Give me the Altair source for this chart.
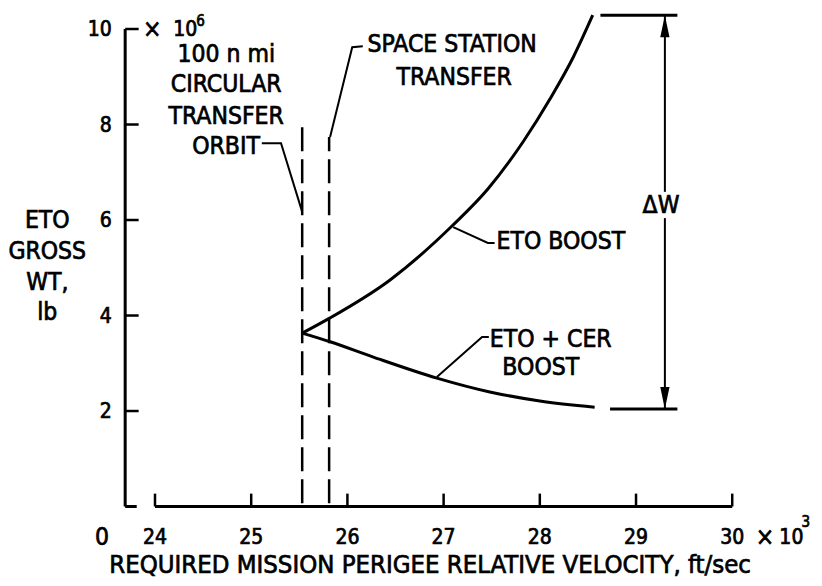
import altair as alt
import pandas as pd

# ---- data ----
velocity_eto = [25.53, 25.82, 26.44, 27.09, 27.46, 27.83, 28.11, 28.35, 28.55]
weight_eto = [3.63, 3.95, 4.74, 5.88, 6.65, 7.65, 8.55, 9.42, 10.29]
velocity_cer = [25.53, 25.82, 26.27, 26.93, 27.48, 28.00, 28.57]
weight_cer = [3.63, 3.45, 3.13, 2.69, 2.40, 2.21, 2.08]
transfer_velocity = [25.53, 25.81]
transfer_top = [8.05, 7.74]
transfer_bottom = [0.07, 0.07]
y_ticks = [2, 4, 6, 8, 10]
x_ticks = [24, 25, 26, 27, 28, 29, 30]
delta_w_x = 29.30
delta_w_top = 10.29
delta_w_bottom = 2.04
delta_w_bar_top = [28.63, 29.43]
delta_w_bar_bottom = [28.73, 29.43]

FONT = "Liberation Sans Narrow, DejaVu Sans Condensed, Liberation Sans, sans-serif"
THICK = 0.7
xs = alt.Scale(domain=[22.472, 30.850], nice=False, zero=False)
ys = alt.Scale(domain=[-1.497, 10.44], nice=False, zero=False)


def X(f):
    return alt.X(f, type="quantitative", scale=xs, axis=None)


def Y(f):
    return alt.Y(f, type="quantitative", scale=ys, axis=None)


# curves
curves = pd.DataFrame({"v": velocity_eto, "w": weight_eto, "s": "ETO BOOST"})
curves = pd.concat(
    [curves, pd.DataFrame({"v": velocity_cer, "w": weight_cer, "s": "ETO + CER BOOST"})]
)
curve_layer = alt.Chart(curves).mark_line(
    color="black", strokeWidth=3, interpolate="monotone"
).encode(x=X("v"), y=Y("w"), detail="s:N")

# dashed transfer lines
tr = pd.DataFrame({"v": transfer_velocity, "top": transfer_top, "bot": transfer_bottom})
dash_layer = alt.Chart(tr).mark_rule(
    color="black", strokeWidth=2.5, strokeDash=[24, 8]
).encode(x=X("v"), y=Y("bot"), y2="top:Q")

# axes
yaxis = alt.Chart(pd.DataFrame({"x": [23.69], "y0": [0.0], "y1": [10.0]})).mark_rule(
    color="black", strokeWidth=3
).encode(x=X("x"), y=Y("y0"), y2="y1:Q")
ytick_df = pd.DataFrame({"x": [23.69] * len(y_ticks), "x2": [23.83] * len(y_ticks), "y": y_ticks})
ytick_layer = alt.Chart(ytick_df).mark_rule(color="black", strokeWidth=2.5).encode(
    x=X("x"), x2="x2:Q", y=Y("y")
)
corner = alt.Chart(pd.DataFrame({"x": [23.69], "x2": [23.81], "y": [0.0]})).mark_rule(
    color="black", strokeWidth=3
).encode(x=X("x"), x2="x2:Q", y=Y("y"))
xaxis = alt.Chart(pd.DataFrame({"x": [x_ticks[0]], "x2": [x_ticks[-1]], "y": [0.0]})).mark_rule(
    color="black", strokeWidth=3
).encode(x=X("x"), x2="x2:Q", y=Y("y"))
xtick_df = pd.DataFrame({"x": x_ticks, "y": [0.0] * len(x_ticks), "y2": [0.27] * len(x_ticks)})
xtick_layer = alt.Chart(xtick_df).mark_rule(color="black", strokeWidth=2.5).encode(
    x=X("x"), y=Y("y"), y2="y2:Q"
)


def texts(rows, align="center", size=24.5, baseline="middle", dy=0):
    df = pd.DataFrame(rows, columns=["x", "y", "t"])
    return alt.Chart(df).mark_text(
        align=align, baseline=baseline, font=FONT, fontSize=size,
        stroke="black", strokeWidth=THICK, fill="black", dy=dy,
    ).encode(x=X("x"), y=Y("y"), text="t:N")


# tick labels
ylab_layer = texts(
    [(23.55, t, str(t)) for t in y_ticks], align="right", size=21, dy=1
)
xlab_layer = texts([(t, -0.66, str(t)) for t in x_ticks], size=21)

center_text = texts([
    (24.74, 9.46, "100 n mi"),
    (24.74, 8.83, "CIRCULAR"),
    (24.74, 8.16, "TRANSFER"),
    (27.11, 8.97, "TRANSFER"),
    (28.01, 2.90, "BOOST"),
    (29.26, 6.29, "ΔW"),
    (22.88, 5.98, "ETO"),
    (22.88, 5.33, "GROSS"),
    (22.88, 4.68, "WT,"),
    (22.88, 4.05, "lb"),
    (23.45, -0.66, "0"),
    (23.97, 9.98, "×"),
    (30.34, -0.66, "×"),
])
title_text = texts(
    [(26.86, -1.39, "REQUIRED MISSION PERIGEE RELATIVE VELOCITY, ft/sec")],
    size=25.5, baseline="alphabetic",
)
right_text = texts([(25.09, 7.53, "ORBIT")], align="right")
left_text = texts([
    (26.21, 9.66, "SPACE STATION"),
    (27.55, 5.53, "ETO BOOST"),
    (27.48, 3.48, "ETO + CER"),
], align="left")
power_text = texts([(24.19, 9.98, "10"), (30.49, -0.66, "10")], align="left", size=21)
sup_text = texts([(24.43, 10.17, "6"), (30.72, -0.32, "3")], align="left", size=15)

# leader lines
leaders = pd.DataFrame({
    "x": [25.11, 25.31, 25.53, 26.16, 26.05, 25.82, 27.10, 27.46, 27.53, 26.93, 27.40, 27.47],
    "y": [7.61, 7.61, 6.17, 9.64, 9.62, 7.74, 5.85, 5.52, 5.52, 2.71, 3.55, 3.55],
    "g": ["a"] * 3 + ["b"] * 3 + ["c"] * 3 + ["d"] * 3,
    "o": list(range(12)),
})
leader_layer = alt.Chart(leaders).mark_line(color="black", strokeWidth=2).encode(
    x=X("x"), y=Y("y"), detail="g:N", order="o:Q"
)

# delta W bars and arrow
bars = pd.DataFrame({
    "x": [delta_w_bar_top[0], delta_w_bar_bottom[0]],
    "x2": [delta_w_bar_top[1], delta_w_bar_bottom[1]],
    "y": [delta_w_top, delta_w_bottom],
})
bar_layer = alt.Chart(bars).mark_rule(color="black", strokeWidth=3).encode(
    x=X("x"), x2="x2:Q", y=Y("y")
)
shaft = pd.DataFrame({
    "x": [delta_w_x, delta_w_x],
    "y": [delta_w_top, 6.04],
    "y2": [6.59, delta_w_bottom],
})
shaft_layer = alt.Chart(shaft).mark_rule(color="black", strokeWidth=2).encode(
    x=X("x"), y=Y("y"), y2="y2:Q"
)
up_head = alt.Chart(pd.DataFrame({"x": [delta_w_x], "y": [delta_w_top]})).mark_point(
    shape="M0,-1L0.42,1L-0.42,1Z", filled=True, color="black", size=484, opacity=1, yOffset=11
).encode(x=X("x"), y=Y("y"))
down_head = alt.Chart(pd.DataFrame({"x": [delta_w_x], "y": [delta_w_bottom]})).mark_point(
    shape="M0,1L0.42,-1L-0.42,-1Z", filled=True, color="black", size=484, opacity=1, yOffset=-11
).encode(x=X("x"), y=Y("y"))

chart = alt.layer(
    dash_layer, curve_layer, yaxis, ytick_layer, corner, xaxis, xtick_layer,
    ylab_layer, xlab_layer, center_text, title_text, right_text, left_text, power_text,
    sup_text, leader_layer, bar_layer, shaft_layer, up_head, down_head,
).properties(
    width=806, height=570, autosize="none", padding=0, background="white"
).configure_view(stroke=None)

chart.save("out.html", embed_options={"renderer": "svg", "actions": False})
